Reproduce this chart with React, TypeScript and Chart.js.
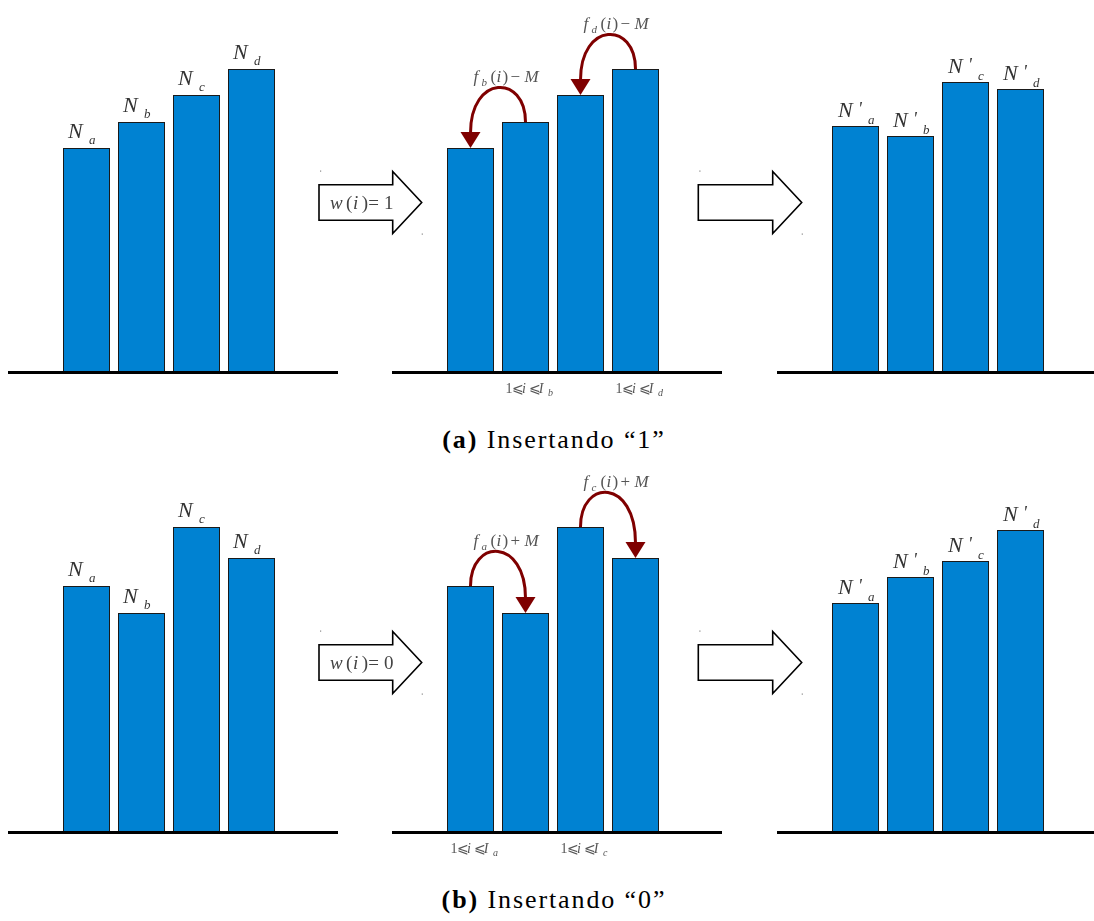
import React, { useEffect, useRef } from "react";
import { Chart, registerables } from "chart.js";

Chart.register(...registerables);

// ---------- data ----------
const categories = ["a", "b", "c", "d"];
const topBefore = [224, 250, 277, 303];
const topAfter = [246, 236, 290, 283];
const bottomBefore = [246, 219, 305, 274];
const bottomAfter = [229, 255, 271, 302];
const topMoves = [
  { from: 1, to: 0, sub: "b", op: "\u2212" },
  { from: 3, to: 2, sub: "d", op: "\u2212" },
];
const bottomMoves = [
  { from: 0, to: 1, sub: "a", op: "+" },
  { from: 2, to: 3, sub: "c", op: "+" },
];
const topRangeBars = [1, 3];
const bottomRangeBars = [0, 2];
const topArrowText = "1";
const bottomArrowText = "0";
const captionA = ["(a)", "Insertando \u201C1\u201D"];
const captionB = ["(b)", "Insertando \u201C0\u201D"];

// ---------- styles ----------
const SERIF = '"Liberation Serif", "Times New Roman", serif';
const BAR_FILL = "#0082D2";
const BAR_EDGE = "#1a1a1a";
const CURVE = "#7f0000";
const W = 1094;
const H = 410;
const Y_MAX = 320;
const AREA_W = 220;

type Piece = [string, number, number, string];

function drawPieces(ctx: CanvasRenderingContext2D, x: number, y: number, pieces: Piece[], color: string) {
  ctx.save();
  ctx.fillStyle = color;
  ctx.textAlign = "left";
  ctx.textBaseline = "alphabetic";
  for (const [t, dx, dy, f] of pieces) {
    ctx.font = f;
    ctx.fillText(t, x + dx, y + dy);
  }
  ctx.restore();
}

const it = (s: number) => `italic ${s}px ${SERIF}`;
const rm = (s: number) => `${s}px ${SERIF}`;

function drawBlockArrow(ctx: CanvasRenderingContext2D, x0: number, neck: number, tip: number, cy: number, text: string | null) {
  ctx.save();
  ctx.beginPath();
  ctx.moveTo(x0, cy - 17.7);
  ctx.lineTo(neck, cy - 17.7);
  ctx.lineTo(neck, cy - 31);
  ctx.lineTo(tip, cy);
  ctx.lineTo(neck, cy + 31);
  ctx.lineTo(neck, cy + 17.7);
  ctx.lineTo(x0, cy + 17.7);
  ctx.closePath();
  ctx.fillStyle = "#fff";
  ctx.fill();
  ctx.lineWidth = 1.6;
  ctx.strokeStyle = "#000";
  ctx.lineJoin = "miter";
  ctx.stroke();
  ctx.fillStyle = "#888";
  ctx.fillRect(x0 + 1, cy - 32, 1.2, 1.2);
  ctx.fillRect(tip, cy + 31, 1.2, 1.2);
  ctx.restore();
  if (text !== null) {
    drawPieces(
      ctx,
      x0 + 11,
      cy + 6,
      [
        ["w", 0, 0, it(19)],
        ["(", 16, 0, rm(19)],
        ["i", 23, 0, it(19)],
        [")", 31.7, 0, rm(19)],
        ["=", 38.3, 0, rm(19)],
        [text, 54, 0, rm(19)],
      ],
      "#444"
    );
  }
}

interface PanelCfg {
  top: number;
  values: number[];
  areaLeft: number;
  base: [number, number];
  labels: "plain" | "prime" | null;
  moves: { from: number; to: number; sub: string; op: string }[];
  rangeBars: number[];
  arrow: { x0: number; neck: number; tip: number; text: string | null } | null;
}

function makePlugin(cfg: PanelCfg) {
  return {
    id: "decor",
    afterDatasetsDraw(chart: any) {
      const ctx: CanvasRenderingContext2D = chart.ctx;
      const els: any[] = chart.getDatasetMeta(0).data;
      const by = chart.scales.y.getPixelForValue(0);

      ctx.save();
      ctx.strokeStyle = "#000";
      ctx.lineWidth = 3;
      ctx.beginPath();
      ctx.moveTo(cfg.base[0], by + 0.6);
      ctx.lineTo(cfg.base[1], by + 0.6);
      ctx.stroke();
      ctx.restore();

      if (cfg.labels) {
        els.forEach((el, i) => {
          const left = el.x - el.width / 2;
          const sub = categories[i];
          if (cfg.labels === "plain") {
            drawPieces(ctx, left, el.y, [
              ["N", 5, -10, it(22)],
              [sub, 26, -4, it(13)],
            ], "#333");
          } else {
            drawPieces(ctx, left, el.y, [
              ["N", 6, -9, it(22)],
              ["'", 26, -11, it(18)],
              [sub, 36, -2.5, it(13)],
            ], "#333");
          }
        });
      }

      for (const m of cfg.moves) {
        const s = els[m.from];
        const t = els[m.to];
        const xs = s.x, ys = s.y, xt = t.x, yt = t.y;
        const ye = yt - 15;
        const peak = Math.min(ys, yt) - 34.5;
        const h = (peak - 0.125 * (ys + ye)) / 0.75;
        ctx.save();
        ctx.strokeStyle = CURVE;
        ctx.lineWidth = 3;
        ctx.beginPath();
        ctx.moveTo(xs, ys);
        ctx.bezierCurveTo(xs, h, xt, h, xt, ye);
        ctx.stroke();
        ctx.fillStyle = CURVE;
        ctx.beginPath();
        ctx.moveTo(xt - 10, yt - 16);
        ctx.lineTo(xt + 10, yt - 16);
        ctx.lineTo(xt, yt);
        ctx.closePath();
        ctx.fill();
        ctx.restore();
        const L = Math.min(xs, xt) + 3;
        drawPieces(ctx, L, peak - 6, [
          ["f", 0, 0, it(17)],
          [m.sub, 8, 4, it(11)],
          ["(", 17, 0, rm(17)],
          ["i", 23, 0, it(17)],
          [")", 29, 0, rm(17)],
          [m.op, 37, 0, rm(17)],
          ["M", 51, 0, it(17)],
        ], "#555");
      }

      for (const i of cfg.rangeBars) {
        const el = els[i];
        const left = el.x - el.width / 2 + 3.5;
        drawPieces(ctx, left, by + 20.5, [
          ["1", 0, 0, rm(14)],
          ["\u2A7D", 6.3, 0, rm(14)],
          ["i", 16.6, 0, it(14)],
          ["\u2A7D", 23.3, 0, rm(14)],
          ["I", 33.3, 0, it(14)],
          [categories[i], 42.5, 3, it(10)],
        ], "#555");
      }

      if (cfg.arrow) {
        drawBlockArrow(ctx, cfg.arrow.x0, cfg.arrow.neck, cfg.arrow.tip, 202.5, cfg.arrow.text);
      }
    },
  };
}

function Panel({ cfg }: { cfg: PanelCfg }) {
  const ref = useRef<HTMLCanvasElement>(null);
  useEffect(() => {
    const chart = new Chart(ref.current as HTMLCanvasElement, {
      type: "bar",
      data: {
        labels: categories,
        datasets: [
          {
            data: cfg.values,
            backgroundColor: BAR_FILL,
            borderColor: BAR_EDGE,
            borderWidth: 1,
            borderSkipped: false,
            barPercentage: 47 / 55,
            categoryPercentage: 1,
          },
        ],
      },
      options: {
        responsive: false,
        animation: false,
        devicePixelRatio: 1,
        layout: {
          padding: {
            left: cfg.areaLeft,
            right: W - cfg.areaLeft - AREA_W,
            top: H - 38 - Y_MAX,
            bottom: 38,
          },
        },
        plugins: { legend: { display: false }, tooltip: { enabled: false } },
        scales: {
          x: { display: false, offset: true },
          y: { display: false, min: 0, max: Y_MAX },
        },
      },
      plugins: [makePlugin(cfg)],
    });
    return () => chart.destroy();
  }, []);
  return (
    <canvas
      ref={ref}
      width={W}
      height={H}
      style={{ position: "absolute", left: 0, top: cfg.top, width: W, height: H }}
    />
  );
}

const panels: PanelCfg[] = [
  { top: 0, values: topBefore, areaLeft: 59, base: [8, 338], labels: "plain", moves: [], rangeBars: [], arrow: null },
  { top: 0, values: topBefore, areaLeft: 443, base: [392, 722], labels: null, moves: topMoves, rangeBars: topRangeBars, arrow: { x0: 319, neck: 392.7, tip: 421.7, text: topArrowText } },
  { top: 0, values: topAfter, areaLeft: 828, base: [777, 1094], labels: "prime", moves: [], rangeBars: [], arrow: { x0: 698.3, neck: 772.7, tip: 801.7, text: null } },
  { top: 460, values: bottomBefore, areaLeft: 59, base: [8, 338], labels: "plain", moves: [], rangeBars: [], arrow: null },
  { top: 460, values: bottomBefore, areaLeft: 443, base: [392, 722], labels: null, moves: bottomMoves, rangeBars: bottomRangeBars, arrow: { x0: 319, neck: 392.7, tip: 421.7, text: bottomArrowText } },
  { top: 460, values: bottomAfter, areaLeft: 828, base: [777, 1094], labels: "prime", moves: [], rangeBars: [], arrow: { x0: 698.3, neck: 772.7, tip: 801.7, text: null } },
];

function Caption({ y, parts }: { y: number; parts: string[] }) {
  return (
    <div
      style={{
        position: "absolute",
        left: 254,
        width: 600,
        top: y - 18,
        height: 36,
        lineHeight: "36px",
        textAlign: "center",
        fontFamily: SERIF,
        fontSize: 26,
        letterSpacing: "1.9px",
        color: "#000",
        whiteSpace: "nowrap",
      }}
    >
      <b>{parts[0]}</b> {parts[1]}
    </div>
  );
}

export default function App() {
  return (
    <div style={{ position: "absolute", left: 0, top: 0, width: W, height: 921, background: "#fff", overflow: "hidden" }}>
      {panels.map((p, i) => (
        <Panel key={i} cfg={p} />
      ))}
      <Caption y={440} parts={captionA} />
      <Caption y={900} parts={captionB} />
    </div>
  );
}
